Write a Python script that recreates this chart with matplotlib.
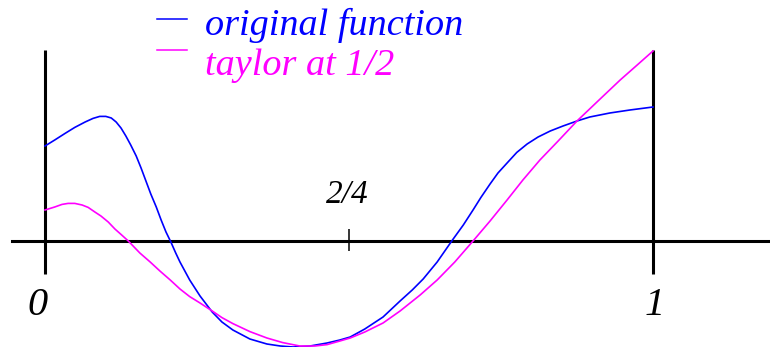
import matplotlib.pyplot as plt
from matplotlib.lines import Line2D

# sampled curve values on [0, 1]
x_orig = [0.0, 0.016, 0.033, 0.049, 0.066, 0.079, 0.090, 0.100, 0.109,
          0.117, 0.125, 0.133, 0.141, 0.150, 0.158, 0.166, 0.174, 0.183,
          0.191, 0.199, 0.207, 0.215, 0.222, 0.238, 0.255, 0.275, 0.291,
          0.309, 0.337, 0.365, 0.387, 0.408, 0.436, 0.464, 0.485, 0.502,
          0.526, 0.556, 0.584, 0.604, 0.622, 0.645, 0.669, 0.688, 0.704,
          0.717, 0.732, 0.745, 0.760, 0.776, 0.793, 0.811, 0.831, 0.852,
          0.875, 0.896, 0.929, 0.962, 1.0]
y_orig = [0.475, 0.505, 0.538, 0.568, 0.595, 0.613, 0.623, 0.623, 0.615,
          0.595, 0.565, 0.525, 0.48, 0.425, 0.365, 0.30, 0.235, 0.17,
          0.105, 0.045, -0.005, -0.06, -0.105, -0.195, -0.275, -0.355, -0.405,
          -0.445, -0.49, -0.515, -0.525, -0.53, -0.525, -0.51, -0.495, -0.48,
          -0.44, -0.38, -0.30, -0.245, -0.19, -0.105, 0.0, 0.08, 0.155,
          0.218, 0.285, 0.34, 0.39, 0.443, 0.485, 0.52, 0.55, 0.575,
          0.60, 0.62, 0.64, 0.655, 0.67]

x_taylor = [0.0, 0.016, 0.028, 0.038, 0.049, 0.061, 0.071, 0.082, 0.092,
            0.104, 0.115, 0.125, 0.137, 0.156, 0.173, 0.189, 0.206, 0.222,
            0.238, 0.255, 0.275, 0.291, 0.309, 0.337, 0.365, 0.391, 0.419,
            0.444, 0.464, 0.485, 0.502, 0.526, 0.556, 0.584, 0.617, 0.645,
            0.674, 0.704, 0.732, 0.760, 0.786, 0.814, 0.844, 0.875, 0.913,
            0.946, 0.974, 1.0]
y_taylor = [0.155, 0.17, 0.183, 0.188, 0.188, 0.18, 0.168, 0.145, 0.125,
            0.095, 0.06, 0.033, 0.0, -0.06, -0.105, -0.15, -0.195, -0.24,
            -0.278, -0.31, -0.35, -0.383, -0.413, -0.453, -0.485, -0.508, -0.525,
            -0.525, -0.518, -0.50, -0.485, -0.455, -0.41, -0.35, -0.27, -0.195,
            -0.105, 0.0, 0.10, 0.205, 0.305, 0.405, 0.50, 0.60, 0.71,
            0.805, 0.88, 0.95]

legend_labels = ['original function', 'taylor at 1/2']
tick_labels = ['0', '2/4', '1']

blue = '#0000ff'
magenta = '#ff00ff'
W, H = 770, 347

fig = plt.figure(figsize=(W / 100, H / 100), dpi=100)
ax = fig.add_axes([0, 0, 1, 1])
ax.set_xlim(-45 / 608, 725 / 608)
ax.set_ylim(-106 / 200, 241 / 200)
ax.axis('off')

# axes drawn by hand
ax.axhline(0, xmin=12 / W, xmax=1, color='black', lw=2.2)
ax.vlines([0, 1], -0.165, 0.955, color='black', lw=2.2)
ax.vlines(0.5, -0.05, 0.06, color='black', lw=1.1)

ax.plot(x_orig, y_orig, color=blue, lw=1.2, solid_joinstyle='round')
ax.plot(x_taylor, y_taylor, color=magenta, lw=1.2, solid_joinstyle='round')

font = dict(family='Liberation Serif', style='italic')


def px(x, y):
    return x / W, 1 - y / H


fig.text(*px(38, 315), tick_labels[0], fontsize=29, ha='center', va='baseline', **font)
fig.text(*px(347, 203), tick_labels[1], fontsize=24, ha='center', va='baseline', **font)
fig.text(*px(655, 315), tick_labels[2], fontsize=29, ha='center', va='baseline', **font)

# legend
for row, (label, col) in enumerate(zip(legend_labels, [blue, magenta])):
    ly = 19 + 31 * row
    fig.add_artist(Line2D([157 / W, 187 / W], [1 - ly / H] * 2, color=col, lw=1.1))
    fig.text(*px(205, 35 + 40 * row), label, color=col, fontsize=27.5,
             ha='left', va='baseline', **font)

fig.savefig('out.png', dpi=100)
